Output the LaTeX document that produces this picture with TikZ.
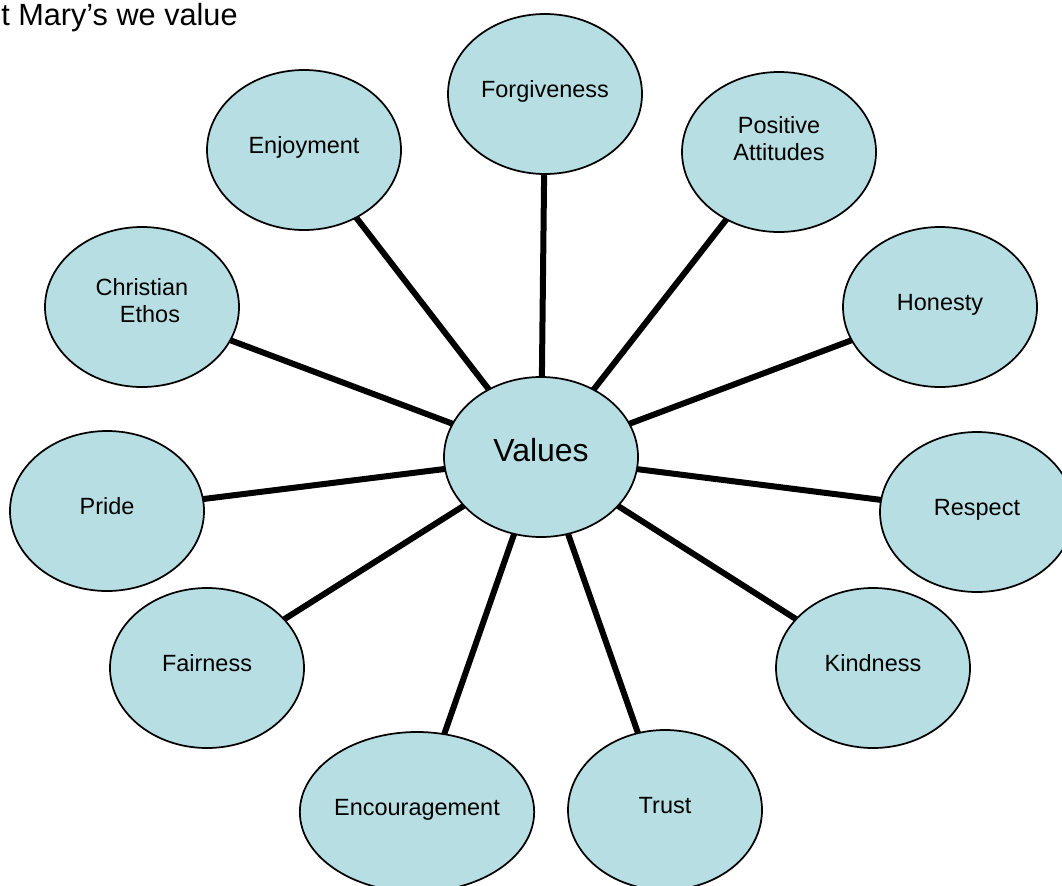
\documentclass[tikz,border=0pt]{standalone}
\usepackage{fontspec}
\setmainfont{Liberation Sans}
\usetikzlibrary{shapes.geometric,backgrounds}

\begin{document}
\begin{tikzpicture}[x=0.75pt,y=0.75pt,yscale=-1,xscale=1,
  bubble/.style={ellipse,draw=black,line width=1.3pt,fill={rgb,255:red,183;green,223;blue,227},minimum width=145.5pt,minimum height=120pt,inner sep=0pt,align=center,font=\fontsize{17.6}{20.25}\selectfont,text depth=7.5pt},
  spoke/.style={line width=4.5pt}]
  \useasboundingbox (0,0) rectangle (1062,885);

  % Title
  \node (title) [anchor=base west,inner sep=0pt,font=\fontsize{23}{27}\selectfont] at (1,25) {t Mary’s we value};

  % Centre Ellipse
  \node (val) [bubble,font=\fontsize{24}{28}\selectfont,text depth=10.8pt] at (541,457) {Values};

  % Ellipse
  \node (forgive) [bubble] at (545,94) {Forgiveness};
  % Ellipse
  \node (positive) [bubble,text depth=20.75pt] at (779,152) {Positive\\Attitudes};
  % Ellipse
  \node (honesty) [bubble] at (940,307) {Honesty};
  % Ellipse
  \node (respect) [bubble] at (977,512) {Respect};
  % Ellipse
  \node (kindness) [bubble] at (873,668) {Kindness};
  % Ellipse
  \node (trust) [bubble] at (665,810) {Trust};
  % Ellipse
  \node (encourage) [bubble] at (417,812) {Encouragement};
  % Ellipse
  \node (fairness) [bubble] at (207,668) {Fairness};
  % Ellipse
  \node (pride) [bubble] at (107,511) {Pride};
  % Ellipse
  \node (ethos) [bubble,text depth=10.25pt] at (142,307) {Christian\\\hspace*{12pt}Ethos};
  % Ellipse
  \node (enjoy) [bubble] at (304,150) {Enjoyment};

  % Spokes
  \begin{scope}[on background layer]
  \draw [spoke] (val.center) -- (forgive.center);
  \draw [spoke] (val.center) -- (positive.center);
  \draw [spoke] (val.center) -- (honesty.center);
  \draw [spoke] (val.center) -- (respect.center);
  \draw [spoke] (val.center) -- (kindness.center);
  \draw [spoke] (val.center) -- (trust.center);
  \draw [spoke] (val.center) -- (encourage.center);
  \draw [spoke] (val.center) -- (fairness.center);
  \draw [spoke] (val.center) -- (pride.center);
  \draw [spoke] (val.center) -- (ethos.center);
  \draw [spoke] (val.center) -- (enjoy.center);
  \end{scope}

\end{tikzpicture}
\end{document}
